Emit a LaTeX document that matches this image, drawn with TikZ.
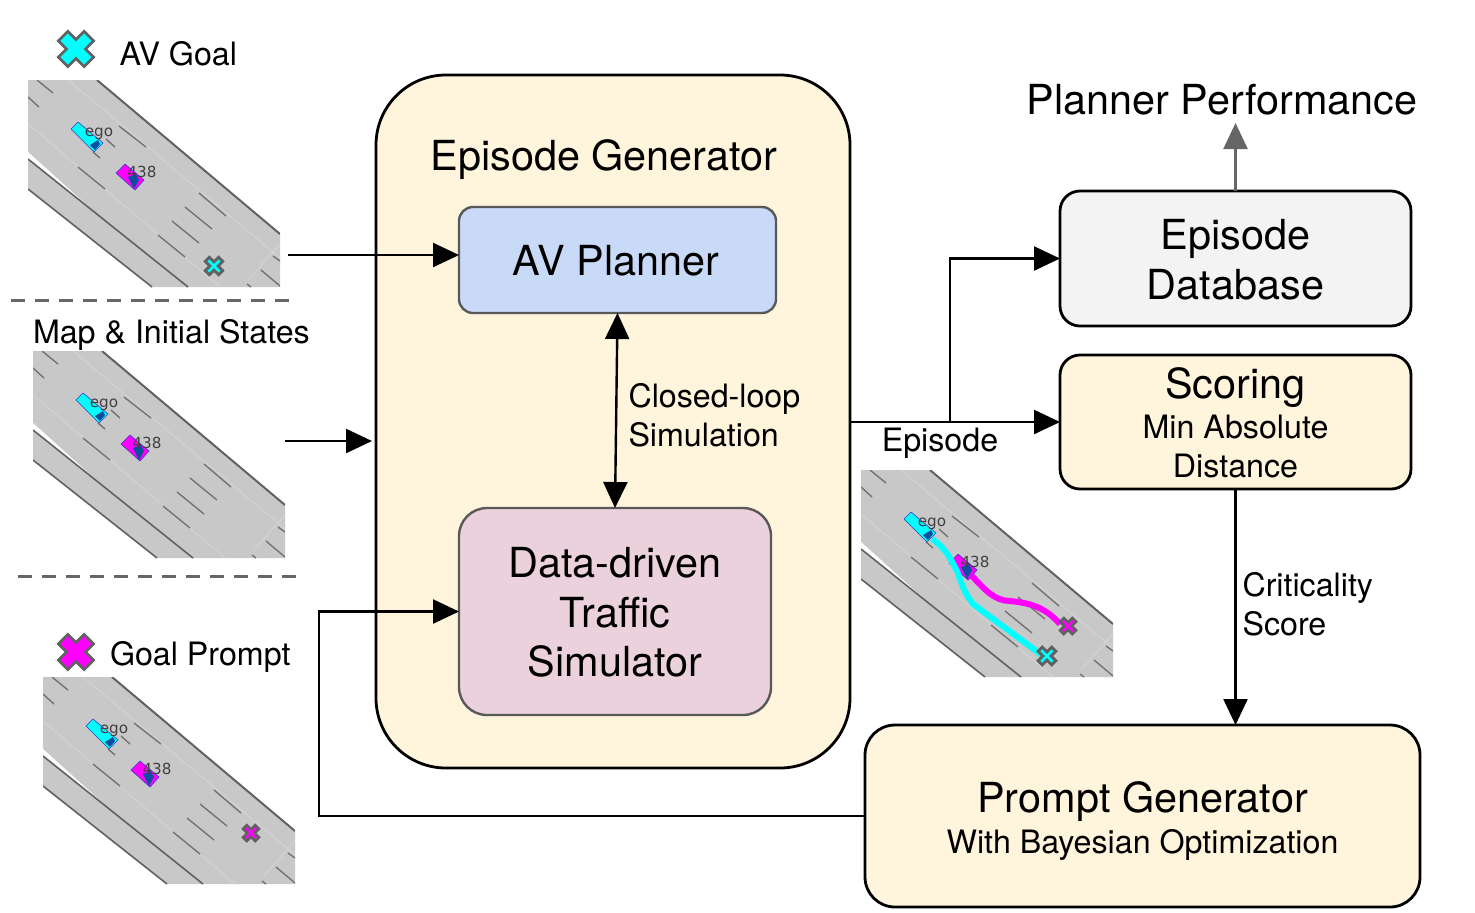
\documentclass[tikz,border=0pt]{standalone}
\usepackage{fontspec}
\setmainfont{TeX Gyre Heros}
\newfontfamily\roadfont{DejaVu Sans}
\usetikzlibrary{arrows.meta}
\definecolor{cream}{HTML}{FFF4DC}
\definecolor{planblue}{HTML}{C9DAF8}
\definecolor{simpink}{HTML}{EAD1DC}
\definecolor{dbgray}{HTML}{F3F3F3}
\definecolor{roadgray}{HTML}{C8C8C8}
\definecolor{roadthin}{HTML}{D6D6D6}
\definecolor{carblue}{HTML}{0B4F9E}
\definecolor{pcyan}{HTML}{00FFFF}
\definecolor{pmagenta}{HTML}{FF00FF}
\newcommand{\smallsize}{\fontsize{16.1}{19.3}\selectfont}
\tikzset{
  x=0.5pt,y=-0.5pt,
  big/.style={font=\fontsize{20.7}{24.8}\selectfont},
  small/.style={font=\smallsize},
  lbl/.style={small,inner sep=0,outer sep=0},
  blk/.style={outer sep=0,align=center,inner sep=0,big,line width=1.4pt,draw=black},
  inner box/.style={outer sep=0,align=center,inner sep=0,big,line width=1.2pt,draw=black!65},
  arr/.style={line width=1.2pt,-{Triangle[length=13pt,width=12pt]}},
  dbl/.style={line width=1.2pt,{Triangle[length=13pt,width=12pt]}-{Triangle[length=13pt,width=12pt]}},
  grayarr/.style={line width=1.2pt,draw=black!60,-{Triangle[length=13pt,width=12pt,fill=black!60]}},
  sep/.style={line width=1.5pt,draw=black!60,dash pattern=on 7pt off 5pt},
  dashl/.style={line width=0.7pt,draw=black!55},
  thinl/.style={line width=0.4pt,draw=roadthin},
  edge/.style={line width=0.8pt,draw=black!62},
  roadtext/.style={font=\roadfont\fontsize{7.6}{9}\selectfont,text=black!75,inner sep=0},
  car/.style={draw=blue!55!gray,line width=0.3pt,line join=round},
}
\newcommand{\crossmark}[6]{% x,y,L,w,lw,colour
  \draw[rotate around={45:(#1,#2)},shift={(#1,#2)},draw=black!62,line width=#5pt,fill=#6,line join=miter]
    (-#3,-#4) -- (-#4,-#4) -- (-#4,-#3) -- (#4,-#3) -- (#4,-#4) -- (#3,-#4) -- (#3,#4) -- (#4,#4) -- (#4,#3) -- (-#4,#3) -- (-#4,#4) -- (-#3,#4) -- cycle;
}
\newcommand{\roadscene}[2]{%
  \begin{scope}[shift={(#1,#2)}]
    \begin{scope}
      \clip (0,0) rectangle (252,207);
      \fill[roadgray] (0,0) -- (69,0) -- (252,154) -- (252,207) -- (124,207) -- (0,109) -- cycle;
      \fill[white] (0,72) -- (0,79) -- (62,128) -- cycle;
      \draw[thinl] (40,0) -- (252,178);
      \draw[thinl] (0,44) -- (192,207);
      \draw[thinl] (252,164) -- (220,200);
      \foreach \a/\b/\c/\d in {9/0/25/13,0/17/11/27,91/46/118/67,78/59/87/67,65/72/72/78,50/87/77/109,171/113/198/136,157/127/184/149,144/141/171/163,130/155/157/177,245/176/252/181,233/190/252/206,219/204/223/207}
        \draw[dashl] (\a,\b) -- (\c,\d);
      \draw[edge,line width=1pt] (69,0) -- (252,154);
      \draw[edge] (0,79) -- (160,207);
      \draw[edge] (0,109) -- (124,207);
      \draw[car,fill=pcyan] (50,42) -- (43,49) -- (66,72) -- (75,63) -- cycle;
      \fill[carblue] (62,65) -- (70,60) -- (72,64) -- (67,70) -- cycle;
      \draw[car,fill=pmagenta] (97,84) -- (88,93) -- (107,110) -- (116,100) -- cycle;
      \fill[carblue] (100,97) -- (108,94) -- (111,100) -- (106,109) -- cycle;
      \node[roadtext] at (71,53.5) {ego};
      \node[roadtext] at (114,92) {438};
    \end{scope}
  \end{scope}
}
\begin{document}
\begin{tikzpicture}
\useasboundingbox (0,0) rectangle (1475,912);

% scenes
\roadscene{28}{80}
\crossmark{214}{266}{9.4}{2.9}{1.4}{pcyan}
\roadscene{33}{351}
\roadscene{43}{677}
\crossmark{251}{833}{8.6}{2.6}{1.3}{pmagenta}
\roadscene{861}{470}
\draw[pcyan,line width=3pt] (932,539) .. controls (947,549) and (952,562) .. (957,571) .. controls (962,585) and (964,592) .. (973,604) -- (1043,656);
\draw[pmagenta,line width=3pt] (972,576) .. controls (985,590) and (995,601) .. (1010,601) .. controls (1030,603) and (1045,607) .. (1060,624);
\crossmark{1068}{626}{8.6}{2.6}{1.3}{pmagenta}
\crossmark{1047}{656}{9.6}{2.9}{1.4}{pcyan}

% legend
\crossmark{76}{49}{18.2}{6.7}{1.3}{pcyan}
\crossmark{76}{652}{18.2}{6.7}{1.3}{pmagenta}
\node[lbl,anchor=base west] (avgoal) at (119.5,65) {AV Goal};
\node[lbl,anchor=base west] (mapinit) at (33,343) {Map \& Initial States};
\node[lbl,anchor=base west] (goalprompt) at (110,665) {Goal Prompt};

% separators
\coordinate (s1a) at (11,300); \coordinate (s1b) at (290,300);
\coordinate (s2a) at (18,576); \coordinate (s2b) at (298,576);
\draw[sep] (s1a) -- (s1b);
\draw[sep] (s2a) -- (s2b);

% boxes
\node[blk,fill=cream,minimum width=237pt,minimum height=346.5pt,rounded corners=35pt] (eg) at (613,421.5) {};
\node[big,inner sep=0,anchor=base] (egt) at (604,170.5) {Episode Generator};
\node[inner box,fill=planblue,minimum width=158.5pt,minimum height=53pt,rounded corners=7pt] (av) at (617.5,260) {\rule{0pt}{16pt}AV Planner\hspace{1.5pt}};
\node[inner box,fill=simpink,minimum width=156pt,minimum height=103.5pt,rounded corners=14pt] (sim) at (615,611.5) {\rule{0pt}{16pt}Data-driven\hspace{1pt}\\Traffic\hspace{1pt}\\Simulator\hspace{1pt}};
\node[blk,fill=dbgray,minimum width=175.5pt,minimum height=67.5pt,rounded corners=10pt] (db) at (1235.5,258.5) {\rule{0pt}{16pt}Episode\hspace{1pt}\\Database\hspace{1pt}};
\node[blk,fill=cream,minimum width=175.5pt,minimum height=67pt,rounded corners=10pt] (sc) at (1235.5,422) {\rule{0pt}{16pt}Scoring\hspace{1pt}\\[-4.5pt]\smallsize Min Absolute\hspace{1pt}\\[-5.5pt]\smallsize Distance\hspace{1pt}};
\node[blk,fill=cream,minimum width=277.5pt,minimum height=91pt,rounded corners=15pt] (pg) at (1142.5,816) {\rule{0pt}{20.5pt}Prompt Generator\hspace{1pt}\\[-4.5pt]\smallsize With Bayesian Optimization\hspace{1pt}};
\node[big,inner sep=0,anchor=base] (perf) at (1222,114) {Planner Performance};

% labels
\node[lbl,anchor=base west,align=left] (cl1) at (628.5,407) {Closed-loop};
\node[lbl,anchor=base west,align=left] (cl2) at (628.5,446) {Simulation};
\node[lbl,anchor=base] (ep) at (940,451) {Episode};
\node[lbl,anchor=base west] (cr1) at (1242.5,596) {Criticality};
\node[lbl,anchor=base west] (cr2) at (1242.5,635) {Score};

% connectors
\coordinate (in1) at (288,255);
\coordinate (in2) at (285,441);
\coordinate (in2e) at (372,441);
\coordinate (br) at (950,422);
\coordinate (turn) at (319,816);
\coordinate (perfarrow) at (1235.5,123);
\draw[arr] (in1) -- (in1 -| av.west);
\draw[arr] (in2) -- (in2e);
\draw[dbl] (av.south) -- (sim.north);
\draw[arr] (eg.east |- sc.west) -- (sc.west);
\draw[arr] (br) |- (db.west);
\draw[arr] (sc.south) -- (sc.south |- pg.north);
\draw[arr] (pg.west) -- (turn) |- (sim.west);
\draw[grayarr] (db.north) -- (perfarrow);
\end{tikzpicture}
\end{document}
